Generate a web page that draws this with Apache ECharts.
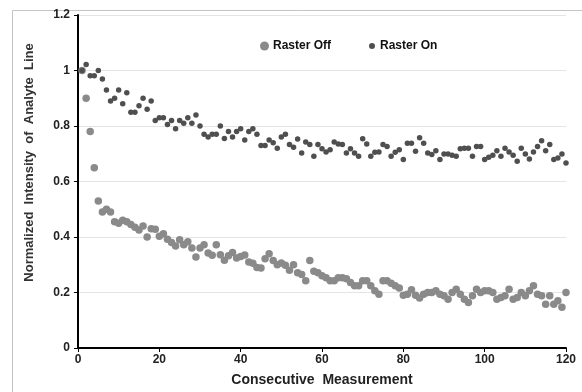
<!DOCTYPE html>
<html>
<head>
<meta charset="utf-8">
<script src="https://cdn.jsdelivr.net/npm/echarts@6/dist/echarts.min.js"></script>
<style>html,body{margin:0;padding:0;background:#fff}#c{width:582px;height:392px}</style>
</head>
<body>
<div id="c"></div>
<script>
var seriesNames = ['Raster Off', 'Raster On'];
var xTicks = [0, 20, 40, 60, 80, 100, 120];
var yTicks = [0, 0.2, 0.4, 0.6, 0.8, 1, 1.2];

var rasterOff = [
1.00,0.90,0.78,0.65,0.53,0.49,0.50,0.49,0.455,0.45,
0.46,0.455,0.445,0.435,0.425,0.44,0.40,0.43,0.428,0.403,
0.412,0.392,0.38,0.368,0.39,0.372,0.383,0.36,0.328,0.36,
0.372,0.342,0.334,0.372,0.336,0.316,0.332,0.344,0.324,0.33,
0.335,0.31,0.305,0.29,0.288,0.322,0.34,0.315,0.30,0.306,
0.298,0.28,0.30,0.271,0.265,0.242,0.315,0.277,0.271,0.26,
0.253,0.242,0.242,0.253,0.253,0.25,0.236,0.224,0.224,0.242,
0.242,0.224,0.206,0.194,0.242,0.242,0.233,0.224,0.216,0.19,
0.194,0.21,0.19,0.18,0.194,0.20,0.20,0.206,0.194,0.188,
0.176,0.20,0.212,0.194,0.176,0.164,0.188,0.212,0.20,0.206,
0.206,0.20,0.176,0.182,0.188,0.212,0.176,0.182,0.20,0.188,
0.206,0.224,0.194,0.188,0.158,0.188,0.158,0.17,0.147,0.20
];

var rasterOn = [
1.00,1.022,0.981,0.981,1.00,0.969,0.93,0.89,0.90,0.93,
0.88,0.92,0.85,0.85,0.873,0.90,0.86,0.89,0.82,0.83,
0.83,0.805,0.82,0.79,0.82,0.81,0.83,0.81,0.84,0.80,
0.77,0.76,0.77,0.77,0.80,0.755,0.78,0.76,0.78,0.79,
0.75,0.78,0.79,0.77,0.73,0.73,0.75,0.74,0.72,0.76,
0.77,0.733,0.723,0.753,0.703,0.742,0.733,0.691,0.733,0.718,
0.706,0.714,0.742,0.735,0.733,0.703,0.718,0.703,0.691,0.754,
0.735,0.691,0.705,0.706,0.733,0.726,0.691,0.705,0.714,0.679,
0.738,0.738,0.709,0.758,0.738,0.703,0.697,0.711,0.679,0.699,
0.699,0.695,0.691,0.718,0.72,0.72,0.691,0.726,0.726,0.679,
0.687,0.695,0.711,0.691,0.72,0.706,0.695,0.673,0.72,0.699,
0.681,0.706,0.726,0.747,0.711,0.733,0.679,0.685,0.699,0.667
];

function pairs(vals) {
  return vals.map(function (v, i) { return [i + 1, v]; });
}

var FONT = '"Liberation Sans", Arial, sans-serif';
var chart = echarts.init(document.getElementById('c'), null, {renderer: 'canvas'});
chart.setOption({
  animation: false,
  backgroundColor: '#fff',
  graphic: [{
    type: 'rect', left: 10, top: 8, silent: true,
    shape: {width: 600, height: 420},
    style: {fill: 'none', stroke: '#c4c4c4', lineWidth: 1}
  }],
  grid: {left: 78, right: 16, top: 15, bottom: 39, containLabel: false},
  legend: [{
    data: [seriesNames[0]], left: 255, top: 35, icon: 'circle',
    itemWidth: 9, itemHeight: 9, itemGap: 4,
    textStyle: {fontFamily: FONT, fontWeight: 'bold', fontSize: 12, color: '#111', padding: [0,0,0,-1]}
  }, {
    data: [seriesNames[1]], left: 364, top: 35, icon: 'circle',
    itemWidth: 6, itemHeight: 6, itemGap: 4,
    textStyle: {fontFamily: FONT, fontWeight: 'bold', fontSize: 12, color: '#111'}
  }],
  xAxis: {
    type: 'value', min: xTicks[0], max: xTicks[xTicks.length - 1], interval: xTicks[1] - xTicks[0],
    name: 'Consecutive  Measurement', nameLocation: 'middle', nameGap: 25,
    nameTextStyle: {fontFamily: FONT, fontWeight: 'bold', fontSize: 14, color: '#222'},
    axisLine: {lineStyle: {color: '#000', width: 2}},
    axisTick: {show: true, length: 4, lineStyle: {color: '#000', width: 1}},
    axisLabel: {fontFamily: FONT, fontWeight: 'bold', fontSize: 12, color: '#222', margin: 6},
    splitLine: {show: false}
  },
  yAxis: {
    type: 'value', min: yTicks[0], max: yTicks[yTicks.length - 1], interval: yTicks[1] - yTicks[0],
    name: 'Normalized  Intensity  of  Analyte  Line', nameLocation: 'middle', nameGap: 42,
    nameTextStyle: {fontFamily: FONT, fontWeight: 'bold', fontSize: 13, color: '#333', padding: [0,0,0,38]},
    axisLine: {show: true, lineStyle: {color: '#000', width: 2}},
    axisTick: {show: true, length: 4, lineStyle: {color: '#000', width: 1}},
    axisLabel: {fontFamily: FONT, fontWeight: 'bold', fontSize: 12, color: '#222', margin: 8,
      formatter: function (v) { return String(Math.round(v * 10) / 10); }},
    splitLine: {show: true, lineStyle: {color: '#e4e4e4', width: 1}}
  },
  series: [{
    name: seriesNames[0], type: 'scatter', data: pairs(rasterOff),
    symbol: 'circle', symbolSize: 7.5,
    itemStyle: {color: '#8a8a8a', opacity: 1}
  }, {
    name: seriesNames[1], type: 'scatter', data: pairs(rasterOn),
    symbol: 'circle', symbolSize: 5.5,
    itemStyle: {color: '#4f4f4f', opacity: 1}
  }]
});
</script>
</body>
</html>
